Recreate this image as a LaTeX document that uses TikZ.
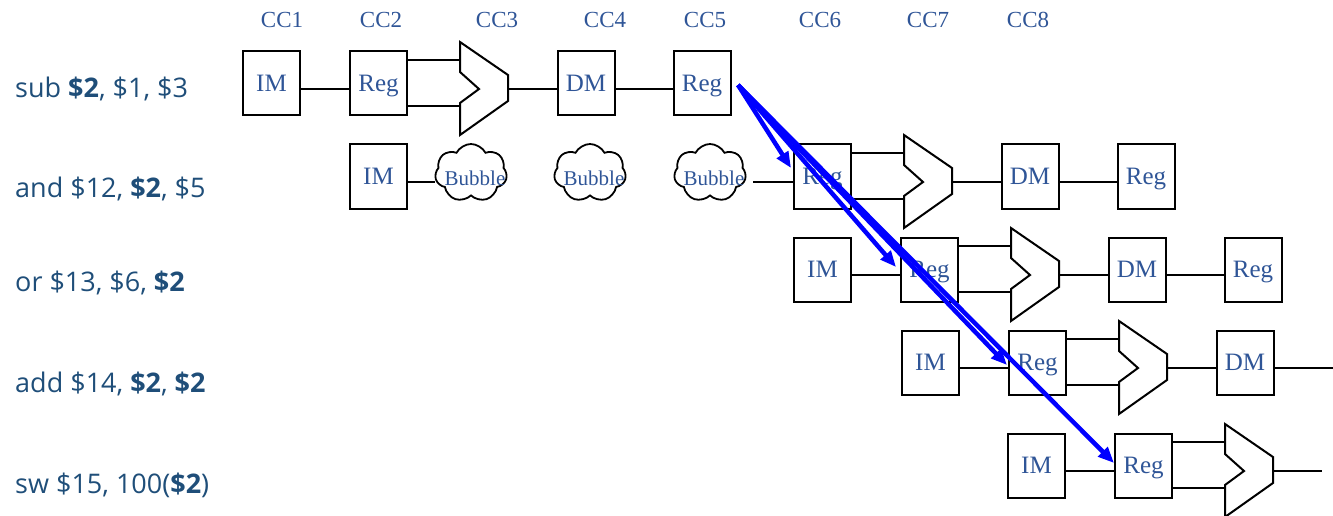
\documentclass[tikz,border=0pt]{standalone}
\usepackage{fontspec}
\setmainfont{Liberation Serif}
\newfontfamily\lsans{Open Sans}
\usetikzlibrary{arrows.meta,shapes.symbols}
\definecolor{tblue}{RGB}{47,85,151}
\definecolor{lblue}{RGB}{31,78,121}
\definecolor{fwd}{RGB}{0,0,255}
\tikzset{
 blk/.style={draw=black, line width=2pt, minimum width=57pt, minimum height=64pt, inner sep=0pt, text=tblue, font=\fontsize{25}{27}\selectfont, text height=16.5pt, text depth=0pt},
 wire/.style={line width=2pt, black},
 alushape/.style={line width=2pt, black, line join=miter},
 bub/.style={cloud, cloud puffs=7, cloud puff arc=125, cloud ignores aspect, draw=black, line width=1.8pt, minimum width=72pt, minimum height=58pt, inner sep=0pt},
 bubtxt/.style={text=tblue, font=\fontsize{21}{23}\selectfont, inner sep=0pt},
 cc/.style={text=tblue, font=\fontsize{23}{25}\selectfont, inner sep=0pt, anchor=base},
 instr/.style={text=lblue, font=\lsans\fontsize{27}{30}\selectfont, inner sep=0pt, anchor=base west},
 fw/.style={draw=fwd, line width=4.5pt, -{Triangle[length=16pt,width=13pt]}},
}
\newcommand\myalu[3]{%
 \draw[alushape] (#2,#3-47) -- (#2+48,#3-14) -- (#2+48,#3+12) -- (#2,#3+46) -- (#2,#3+14) -- (#2+19,#3) -- (#2,#3-17) -- cycle;
 \coordinate (#1i1) at (#2,#3-29);
 \coordinate (#1i2) at (#2,#3+17);
 \coordinate (#1o) at (#2+48,#3);}
\begin{document}
\begin{tikzpicture}[x=1pt,y=-1pt]
\useasboundingbox (0,0) rectangle (1333,516);
% clock cycle labels
\node[cc] (cc1) at (282,28) {CC1};
\node[cc] (cc2) at (381,28) {CC2};
\node[cc] (cc3) at (497,28) {CC3};
\node[cc] (cc4) at (605,28) {CC4};
\node[cc] (cc5) at (705,28) {CC5};
\node[cc] (cc6) at (820,28) {CC6};
\node[cc] (cc7) at (928,28) {CC7};
\node[cc] (cc8) at (1028,28) {CC8};
% instructions
\node[instr] (i1) at (15,98) {sub \textbf{\$2}, \$1, \$3};
\node[instr] (i2) at (15,197) {and \$12, \textbf{\$2}, \$5};
\node[instr] (i3) at (15,291) {or \$13, \$6, \textbf{\$2}};
\node[instr] (i4) at (15,392) {add \$14, \textbf{\$2}, \textbf{\$2}};
\node[instr] (i5) at (15,493) {sw \$15, 100(\textbf{\$2})};
% row 1
\coordinate (l1) at (0,89);
\node[blk] (im1) at (271.5,83.5) {IM};
\node[blk] (rg1) at (378.5,83.5) {Reg};
\myalu{al1}{460}{89}
\node[blk] (dm1) at (586,83.5) {DM};
\node[blk] (wb1) at (702,83.5) {Reg};
\draw[wire] (im1.east |- l1) -- (rg1.west |- l1);
\draw[wire] (rg1.east |- al1i1) -- (al1i1);
\draw[wire] (rg1.east |- al1i2) -- (al1i2);
\draw[wire] (al1o) -- (dm1.west |- l1);
\draw[wire] (dm1.east |- l1) -- (wb1.west |- l1);
% row 2
\coordinate (l2) at (0,182);
\node[blk] (im2) at (378.5,176.5) {IM};
\node[bub] (b1) at (471,173) {};
\node[bubtxt] (b1t) at ([shift={(4,5)}]b1.center) {Bubble};
\node[bub] (b2) at (590,173) {};
\node[bubtxt] (b2t) at ([shift={(4,5)}]b2.center) {Bubble};
\node[bub] (b3) at (710,173) {};
\node[bubtxt] (b3t) at ([shift={(4,5)}]b3.center) {Bubble};
\node[blk] (rg2) at (822.5,176.5) {Reg};
\myalu{al2}{904}{182}
\node[blk] (dm2) at (1030,176.5) {DM};
\node[blk] (wb2) at (1146,176.5) {Reg};
\draw[wire] (im2.east |- l2) -- (b1.west |- l2);
\draw[wire] ([xshift=7pt]b3.east |- l2) -- (rg2.west |- l2);
\draw[wire] (rg2.east |- al2i1) -- (al2i1);
\draw[wire] (rg2.east |- al2i2) -- (al2i2);
\draw[wire] (al2o) -- (dm2.west |- l2);
\draw[wire] (dm2.east |- l2) -- (wb2.west |- l2);
% row 3
\coordinate (l3) at (0,275);
\node[blk] (im3) at (822.5,269.5) {IM};
\node[blk] (rg3) at (929.5,269.5) {Reg};
\myalu{al3}{1011}{275}
\node[blk] (dm3) at (1137,269.5) {DM};
\node[blk] (wb3) at (1253,269.5) {Reg};
\draw[wire] (im3.east |- l3) -- (rg3.west |- l3);
\draw[wire] (rg3.east |- al3i1) -- (al3i1);
\draw[wire] (rg3.east |- al3i2) -- (al3i2);
\draw[wire] (al3o) -- (dm3.west |- l3);
\draw[wire] (dm3.east |- l3) -- (wb3.west |- l3);
% row 4
\coordinate (l4) at (0,368);
\coordinate (e4) at (1333,368);
\node[blk] (im4) at (930.5,362.5) {IM};
\node[blk] (rg4) at (1037.5,362.5) {Reg};
\myalu{al4}{1119}{368}
\node[blk] (dm4) at (1245,362.5) {DM};
\draw[wire] (im4.east |- l4) -- (rg4.west |- l4);
\draw[wire] (rg4.east |- al4i1) -- (al4i1);
\draw[wire] (rg4.east |- al4i2) -- (al4i2);
\draw[wire] (al4o) -- (dm4.west |- l4);
\draw[wire] (dm4.east |- l4) -- (e4);
% row 5
\coordinate (l5) at (0,471);
\coordinate (e5) at (1322,471);
\node[blk] (im5) at (1036.5,465.5) {IM};
\node[blk] (rg5) at (1143.5,465.5) {Reg};
\myalu{al5}{1225}{471}
\draw[wire] (im5.east |- l5) -- (rg5.west |- l5);
\draw[wire] (rg5.east |- al5i1) -- (al5i1);
\draw[wire] (rg5.east |- al5i2) -- (al5i2);
\draw[wire] (al5o) -- (e5);
% forwarding arrows
\coordinate (src) at ([shift={(6.5,1.5)}]wb1.east);
\draw[fw] (src) -- ([shift={(-2,-8.5)}]rg2.west);
\draw[fw] (src) -- ([shift={(-4,-2.5)}]rg3.west);
\draw[fw] (src) -- ([shift={(-1,2.5)}]rg4.west);
\draw[fw] (src) -- ([shift={(0,-2.5)}]rg5.west);
\end{tikzpicture}
\end{document}
